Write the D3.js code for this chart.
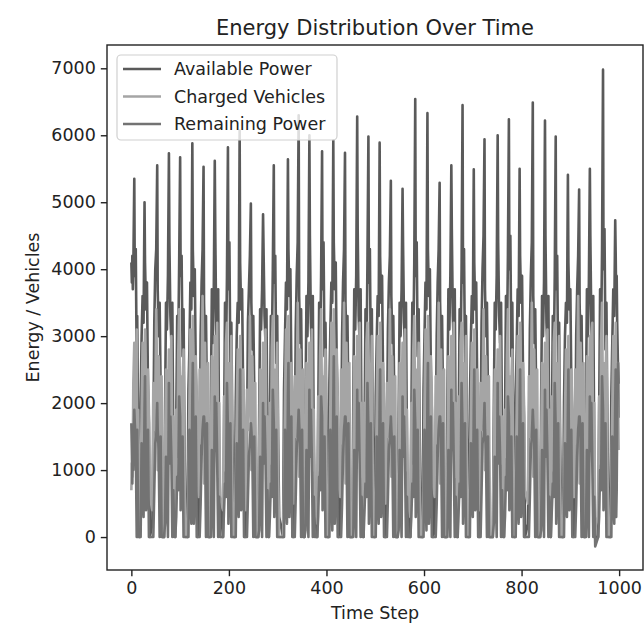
<!DOCTYPE html>
<html>
<head>
<meta charset="utf-8">
<script src="https://cdn.jsdelivr.net/npm/d3@7"></script>
<style>
  body { margin: 0; background: #fff; }
  svg { display: block; font-family: "DejaVu Sans", sans-serif; }
</style>
</head>
<body>
<div id="chart"></div>
<script>
// --- Data ---
// Vertices of each series, one row per daily cycle (x = time step)
const timeSteps = [
  [0, 1, 2, 3, 4, 6, 7, 9, 11, 12, 14, 16],
  [17, 19, 21, 23, 25, 27, 28, 30, 32, 34, 36, 38],
  [43, 45, 47, 49, 51, 53, 54, 56, 58, 60, 62, 64],
  [67, 69, 71, 73, 75, 77, 78, 80, 82, 84, 86, 88],
  [90, 92, 94, 96, 98, 100, 101, 103, 105, 107, 109, 111],
  [115, 117, 119, 121, 123, 125, 126, 128, 130, 132, 134, 136],
  [138, 140, 142, 144, 146, 148, 149, 151, 153, 155, 157, 159],
  [161, 163, 165, 167, 169, 171, 172, 174, 176, 178, 180, 182],
  [188, 190, 192, 194, 196, 198, 199, 201, 203, 205, 207, 209],
  [212, 214, 216, 218, 220, 222, 223, 225, 227, 229, 231, 233],
  [235, 237, 239, 241, 243, 245, 246, 248, 250, 252, 254, 256],
  [260, 262, 264, 266, 268, 270, 271, 273, 275, 277, 279, 281],
  [282, 284, 286, 288, 290, 292, 293, 295, 297, 299, 301, 303],
  [311, 313, 315, 317, 319, 321, 322, 324, 326, 328, 330, 332],
  [333, 335, 337, 339, 341, 343, 344, 346, 348, 350, 352, 354],
  [355, 357, 359, 361, 363, 365, 366, 368, 370, 372, 374, 376],
  [381, 383, 385, 387, 389, 391, 392, 394, 396, 398, 400, 402],
  [404, 406, 408, 410, 412, 414, 415, 417, 419, 421, 423, 425],
  [428, 430, 432, 434, 436, 438, 439, 441, 443, 445, 447, 449],
  [453, 455, 457, 459, 461, 463, 464, 466, 468, 470, 472, 474],
  [476, 478, 480, 482, 484, 486, 487, 489, 491, 493, 495, 497],
  [499, 501, 503, 505, 507, 509, 510, 512, 514, 516, 518, 520],
  [522, 524, 526, 528, 530, 532, 533, 535, 537, 539, 541, 543],
  [546, 548, 550, 552, 554, 556, 557, 559, 561, 563, 565, 567],
  [572, 574, 576, 578, 580, 582, 583, 585, 587, 589, 591, 593],
  [597, 599, 601, 603, 605, 607, 608, 610, 612, 614, 616, 618],
  [622, 624, 626, 628, 630, 632, 633, 635, 637, 639, 641, 643],
  [646, 648, 650, 652, 654, 656, 657, 659, 661, 663, 665, 667],
  [669, 671, 673, 675, 677, 679, 680, 682, 684, 686, 688, 690],
  [692, 694, 696, 698, 700, 702, 703, 705, 707, 709, 711, 713],
  [714, 716, 718, 720, 722, 724, 725, 727, 729, 731, 733, 735],
  [741, 743, 745, 747, 749, 751, 752, 754, 756, 758, 760, 762],
  [764, 766, 768, 770, 772, 774, 775, 777, 779, 781, 783, 785],
  [786, 788, 790, 792, 794, 796, 797, 799, 801, 803, 805, 807],
  [813, 815, 817, 819, 821, 823, 824, 826, 828, 830, 832, 834],
  [838, 840, 842, 844, 846, 848, 849, 851, 853, 855, 857, 859],
  [860, 862, 864, 866, 868, 870, 871, 873, 875, 877, 879, 881],
  [885, 887, 889, 891, 893, 895, 896, 898, 900, 902, 904, 906],
  [908, 910, 912, 914, 916, 918, 919, 921, 923, 925, 927, 929],
  [930, 932, 934, 936, 938, 940, 941, 943, 945, 947, 949, 951],
  [957, 959, 961, 963, 965, 967, 968, 970, 972, 974, 976, 978],
  [982, 984, 986, 988, 990, 992, 993, 994, 995, 996, 998, 999]
];

const availablePower = [
  [4100, 3800, 4200, 3700, 4000, 5350, 3900, 4300, 2600, 3300, 1500, 300],
  [0, 2000, 3000, 3600, 3200, 5000, 4100, 3400, 3800, 2300, 1700, 0],
  [200, 1400, 3200, 4000, 4300, 5550, 3700, 3000, 3500, 2200, 1100, 0],
  [0, 1800, 3500, 3100, 3900, 5730, 4400, 3300, 2900, 3500, 1400, 300],
  [0, 1700, 3300, 2800, 4100, 5670, 3900, 4200, 2700, 3400, 1400, 200],
  [0, 2200, 2800, 3800, 3400, 5880, 4300, 3600, 4000, 2500, 1900, 0],
  [100, 1200, 3000, 3800, 4300, 5530, 3500, 2800, 3300, 2000, 900, 0],
  [0, 2000, 3700, 2900, 3700, 5620, 4600, 3100, 2700, 3700, 1200, 500],
  [0, 1500, 3500, 2600, 3900, 5820, 3700, 4400, 2500, 3200, 1600, 400],
  [0, 2000, 3000, 3500, 3200, 6070, 4100, 3400, 3700, 2300, 1700, 0],
  [300, 1400, 3200, 3700, 4200, 4980, 3500, 2800, 3300, 2200, 1100, 0],
  [0, 1800, 3400, 3100, 3700, 4820, 4300, 3300, 2900, 3400, 1400, 300],
  [0, 1600, 3300, 2800, 4000, 5550, 3800, 4200, 2600, 3300, 1500, 300],
  [0, 2200, 3000, 3800, 3400, 5640, 4300, 3600, 4000, 2500, 1900, 0],
  [200, 1300, 3100, 3900, 4400, 6300, 3600, 2900, 3400, 2100, 1000, 0],
  [0, 1900, 3600, 3000, 3800, 6000, 4500, 3200, 2800, 3600, 1300, 400],
  [0, 1700, 3500, 2700, 3900, 5760, 3700, 4400, 2700, 3200, 1600, 200],
  [0, 2300, 3100, 3800, 3500, 5920, 4400, 3700, 4100, 2600, 2000, 0],
  [100, 1200, 3000, 3800, 4300, 5740, 3500, 2800, 3300, 2000, 900, 0],
  [0, 2000, 3700, 3100, 3900, 6280, 4600, 3300, 2900, 3700, 1400, 500],
  [0, 1500, 3400, 2600, 4100, 5980, 3800, 4300, 2500, 3400, 1500, 400],
  [0, 2100, 2900, 3600, 3300, 5890, 4200, 3500, 3900, 2400, 1800, 0],
  [200, 1400, 3100, 3800, 4200, 5320, 3600, 2900, 3300, 2100, 1000, 0],
  [0, 1800, 3500, 3000, 3700, 5200, 4400, 3200, 2800, 3500, 1300, 400],
  [0, 1700, 3500, 2800, 4100, 6540, 3900, 4400, 2700, 3400, 1600, 300],
  [0, 2200, 3000, 3800, 3400, 6330, 4300, 3600, 4000, 2500, 1900, 0],
  [100, 1300, 3000, 3800, 4300, 5290, 3500, 2800, 3300, 2000, 900, 0],
  [0, 2000, 3700, 3100, 3900, 5550, 4600, 3300, 2900, 3700, 1400, 500],
  [0, 1600, 3400, 2700, 4000, 6450, 3800, 4300, 2600, 3300, 1500, 300],
  [0, 2000, 2900, 3600, 3200, 5490, 4100, 3400, 3800, 2300, 1700, 0],
  [300, 1400, 3200, 4000, 4500, 5940, 3700, 3000, 3500, 2200, 1100, 0],
  [0, 1800, 3500, 3100, 3900, 6000, 4400, 3300, 2900, 3500, 1400, 300],
  [0, 1700, 3600, 2800, 4200, 6240, 4000, 4500, 2700, 3500, 1600, 200],
  [0, 2100, 2800, 3700, 3300, 5500, 4200, 3500, 3900, 2400, 1800, 0],
  [200, 1300, 3100, 3900, 4400, 6490, 3600, 2900, 3400, 2100, 1000, 0],
  [0, 1900, 3600, 3000, 3800, 6220, 4500, 3200, 2800, 3600, 1300, 400],
  [0, 1500, 3300, 2600, 3900, 5980, 3700, 4200, 2500, 3200, 1500, 400],
  [0, 2000, 3000, 3500, 3200, 5410, 4100, 3400, 3700, 2300, 1700, 0],
  [100, 1200, 3000, 3700, 4200, 5190, 3500, 2800, 3300, 2000, 900, 0],
  [0, 2000, 3700, 3000, 3800, 5500, 4500, 3200, 2800, 3600, 1300, 0],
  [0, 1800, 3700, 2900, 4300, 6980, 4000, 4600, 2800, 3500, 1700, 300],
  [0, 2100, 2900, 3700, 3300, 4730, 4200, 3500, 3900, 3200, 2400, 1780]
];

const chargedVehicles = [
  [700, 1100, 900, 1300, 2300, 2900, 1400, 2300, 3100, 1000, 1900, 500],
  [0, 900, 1800, 2900, 1200, 2500, 3100, 1400, 1200, 2500, 1900, 600],
  [400, 2300, 1600, 2000, 3400, 2300, 1000, 2700, 1900, 1300, 2400, 0],
  [0, 1300, 2500, 1000, 1900, 2800, 1500, 2200, 3000, 1100, 1800, 400],
  [200, 1900, 1200, 2700, 3400, 1800, 2400, 900, 2300, 2800, 1000, 0],
  [0, 700, 2000, 3100, 1400, 2300, 3300, 1600, 1000, 2700, 2100, 800],
  [600, 2500, 1400, 2200, 3600, 2100, 800, 2900, 1700, 1100, 2600, 0],
  [0, 1100, 2700, 800, 1700, 3000, 1300, 2400, 3200, 900, 2000, 600],
  [400, 2100, 1000, 2900, 3200, 1600, 2600, 700, 2100, 3000, 800, 0],
  [0, 900, 1800, 2800, 1200, 2500, 3000, 1400, 1200, 2500, 1900, 600],
  [400, 2200, 1600, 2000, 3300, 2300, 1000, 2700, 1900, 1300, 2300, 0],
  [0, 1300, 2500, 1000, 1900, 2900, 1500, 2200, 3100, 1100, 1800, 400],
  [300, 2000, 1100, 2800, 3300, 1700, 2500, 800, 2200, 2900, 900, 0],
  [0, 800, 2000, 3100, 1400, 2300, 3300, 1500, 1100, 2600, 2000, 700],
  [500, 2400, 1500, 2100, 3500, 2200, 900, 2800, 1800, 1200, 2500, 0],
  [0, 1200, 2600, 900, 1800, 2900, 1400, 2300, 3100, 1000, 1900, 500],
  [200, 2100, 1000, 2700, 3400, 1800, 2400, 900, 2300, 2800, 1000, 0],
  [0, 700, 2000, 3200, 1400, 2300, 3400, 1600, 1000, 2800, 2100, 800],
  [600, 2500, 1400, 2200, 3500, 2100, 800, 2900, 1700, 1100, 2600, 0],
  [0, 1100, 2700, 800, 1700, 3000, 1300, 2400, 3200, 900, 2000, 600],
  [400, 2000, 1100, 2900, 3200, 1600, 2600, 700, 2100, 3000, 800, 0],
  [0, 800, 1900, 3000, 1300, 2400, 3200, 1500, 1100, 2600, 2000, 700],
  [500, 2300, 1500, 2100, 3400, 2200, 900, 2700, 1800, 1200, 2400, 0],
  [0, 1200, 2600, 900, 1800, 2900, 1400, 2300, 3100, 1000, 1900, 500],
  [300, 2000, 1100, 2800, 3300, 1700, 2500, 800, 2200, 2900, 900, 0],
  [0, 700, 2000, 3100, 1400, 2300, 3300, 1600, 1000, 2700, 2100, 800],
  [600, 2400, 1400, 2200, 3500, 2100, 800, 2800, 1700, 1100, 2500, 0],
  [0, 1100, 2700, 800, 1700, 3000, 1300, 2400, 3200, 900, 2000, 600],
  [400, 2100, 1000, 2900, 3200, 1600, 2600, 700, 2100, 3000, 800, 0],
  [0, 900, 1800, 2900, 1200, 2500, 3100, 1400, 1200, 2500, 1900, 600],
  [400, 2300, 1600, 2000, 3400, 2300, 1000, 2700, 1900, 1300, 2400, 0],
  [0, 1300, 2500, 1000, 1900, 2800, 1500, 2200, 3000, 1100, 1800, 400],
  [200, 1900, 1200, 2700, 3400, 1800, 2400, 900, 2300, 2800, 1000, 0],
  [0, 800, 1900, 3000, 1300, 2400, 3200, 1500, 1100, 2600, 2000, 700],
  [500, 2400, 1500, 2100, 3500, 2200, 900, 2800, 1800, 1200, 2500, 0],
  [0, 1200, 2600, 900, 1800, 2900, 1400, 2300, 3100, 1000, 1900, 500],
  [400, 2100, 1000, 2900, 3200, 1600, 2600, 700, 2100, 3000, 800, 0],
  [0, 900, 1800, 2800, 1200, 2500, 3000, 1400, 1200, 2500, 1900, 600],
  [600, 2500, 1400, 2200, 3600, 2100, 800, 2900, 1700, 1100, 2600, 0],
  [0, 1100, 2700, 800, 1700, 3000, 1300, 2400, 3200, 900, 2000, 140],
  [300, 2100, 1100, 2900, 3500, 1800, 2600, 900, 2300, 3000, 1000, 0],
  [0, 800, 1900, 3000, 1300, 2400, 3200, 1500, 1100, 2600, 2000, 1300]
];

const remainingPower = [
  [1700, 1300, 800, 1500, 1000, 1900, 1700, 1400, 0, 1600, 0, 0],
  [0, 0, 1400, 600, 300, 1900, 2400, 400, 700, 1600, 0, 0],
  [0, 0, 700, 1400, 1500, 2000, 1600, 1300, 0, 1500, 0, 0],
  [0, 200, 1200, 700, 0, 2300, 1100, 1800, 1200, 0, 700, 0],
  [0, 300, 900, 700, 2100, 1800, 400, 1100, 1500, 0, 0, 0],
  [0, 0, 1600, 700, 200, 2100, 2600, 200, 800, 1800, 0, 0],
  [0, 0, 500, 1200, 1600, 1800, 1800, 1500, 0, 1700, 0, 0],
  [0, 0, 1300, 600, 0, 2100, 1300, 2000, 1100, 0, 600, 0],
  [0, 400, 800, 600, 2300, 1600, 200, 900, 1700, 0, 0, 0],
  [0, 0, 1400, 600, 300, 1900, 2500, 400, 600, 1600, 0, 0],
  [0, 0, 600, 1200, 1400, 1700, 1600, 1300, 0, 1500, 0, 0],
  [0, 100, 1200, 700, 0, 2000, 1100, 1800, 1200, 0, 700, 0],
  [0, 300, 800, 600, 2200, 1700, 300, 1000, 1600, 0, 0, 0],
  [0, 0, 1600, 700, 200, 2100, 2600, 300, 800, 1800, 0, 0],
  [0, 0, 600, 1300, 1500, 1900, 1700, 1400, 0, 1600, 0, 0],
  [0, 100, 1300, 600, 0, 2200, 1200, 1900, 1200, 0, 600, 0],
  [0, 300, 900, 700, 2100, 1800, 400, 1100, 1500, 0, 0, 0],
  [0, 0, 1600, 700, 100, 2000, 2700, 200, 800, 1800, 0, 0],
  [0, 0, 500, 1200, 1600, 1800, 1800, 1500, 0, 1700, 0, 0],
  [0, 0, 1300, 600, 0, 2200, 1300, 2000, 1100, 0, 600, 0],
  [0, 400, 800, 600, 2300, 1600, 200, 900, 1700, 0, 0, 0],
  [0, 0, 1500, 600, 200, 2000, 2500, 300, 700, 1700, 0, 0],
  [0, 0, 600, 1300, 1500, 1800, 1600, 1300, 0, 1500, 0, 0],
  [0, 100, 1300, 600, 0, 2100, 1200, 1800, 1200, 0, 600, 0],
  [0, 300, 800, 600, 2200, 1700, 300, 1000, 1600, 0, 0, 0],
  [0, 0, 1600, 700, 100, 2100, 2600, 200, 800, 1800, 0, 0],
  [0, 0, 500, 1200, 1600, 1800, 1800, 1500, 0, 1700, 0, 0],
  [0, 0, 1300, 600, 0, 2200, 1300, 2000, 1100, 0, 600, 0],
  [0, 400, 800, 600, 2300, 1600, 200, 900, 1700, 0, 0, 0],
  [0, 0, 1400, 600, 300, 1900, 2500, 400, 600, 1600, 0, 0],
  [0, 0, 700, 1400, 1500, 2000, 1600, 1300, 0, 1500, 0, 0],
  [0, 200, 1200, 700, 0, 2300, 1100, 1800, 1200, 0, 700, 0],
  [0, 300, 900, 700, 2100, 1800, 400, 1100, 1500, 0, 0, 0],
  [0, 0, 1500, 600, 200, 2000, 2500, 300, 700, 1700, 0, 0],
  [0, 0, 600, 1300, 1500, 1900, 1700, 1400, 0, 1600, 0, 0],
  [0, 100, 1300, 600, 0, 2200, 1200, 1900, 1200, 0, 600, 0],
  [0, 400, 800, 600, 2300, 1600, 200, 900, 1700, 0, 0, 0],
  [0, 0, 1400, 600, 300, 1900, 2500, 400, 600, 1600, 0, 0],
  [0, 0, 500, 1200, 1600, 1800, 1800, 1500, 0, 1700, 0, 0],
  [0, 0, 1300, 600, 0, 2100, 1300, 2000, 1100, 0, 600, -140],
  [0, 300, 1000, 700, 2400, 1900, 400, 1100, 1700, 0, 0, 0],
  [0, 0, 1500, 600, 200, 2000, 2500, 300, 700, 1700, 2600, 2290]
];

const seriesNames = ["Available Power", "Charged Vehicles", "Remaining Power"];
const seriesColors = ["#5a5a5a", "#a5a5a5", "#737373"];
const xTicks = [0, 200, 400, 600, 800, 1000];
const yTicks = [0, 1000, 2000, 3000, 4000, 5000, 6000, 7000];

// --- Chart size ---
const width = 644;
const height = 624;
const plot = { left: 107, right: 643, top: 45, bottom: 570 };

const svg = d3.select("#chart")
  .append("svg")
  .attr("width", width)
  .attr("height", height);

// Scales (matplotlib style 5% padding around the data)
const xScale = d3.scaleLinear()
  .domain([-49.95, 1048.95])
  .range([plot.left, plot.right]);

const yScale = d3.scaleLinear()
  .domain([-492, 7348])
  .range([plot.bottom, plot.top]);

// Clip lines to the axes box
svg.append("clipPath").attr("id", "plot-clip")
  .append("rect")
  .attr("x", plot.left).attr("y", plot.top)
  .attr("width", plot.right - plot.left)
  .attr("height", plot.bottom - plot.top);

// --- Lines ---
const steps = timeSteps.flat();
const allSeries = [availablePower, chargedVehicles, remainingPower].map((rows, i) => {
  const vals = rows.flat();
  return {
    name: seriesNames[i],
    color: seriesColors[i],
    points: steps.map((t, j) => ({ t, v: vals[j] }))
  };
});

const line = d3.line()
  .x(d => xScale(d.t))
  .y(d => yScale(d.v));

svg.append("g")
  .attr("clip-path", "url(#plot-clip)")
  .selectAll("path")
  .data(allSeries)
  .join("path")
  .attr("d", d => line(d.points))
  .attr("fill", "none")
  .attr("stroke", d => d.color)
  .attr("stroke-width", 2.6)
  .attr("stroke-linejoin", "round");

// --- Axes ---
const xAxis = d3.axisBottom(xScale).tickValues(xTicks).tickFormat(d3.format("d")).tickSize(6.2).tickPadding(5);
const yAxis = d3.axisLeft(yScale).tickValues(yTicks).tickFormat(d3.format("d")).tickSize(6.2).tickPadding(5);

const gx = svg.append("g")
  .attr("transform", `translate(0, ${plot.bottom})`)
  .call(xAxis);
const gy = svg.append("g")
  .attr("transform", `translate(${plot.left}, 0)`)
  .call(yAxis);

[gx, gy].forEach(g => {
  g.select(".domain").remove();
  g.selectAll(".tick line").attr("stroke", "#222").attr("stroke-width", 1.4);
  g.selectAll(".tick text")
    .attr("fill", "#222")
    .style("font-size", "17.5px")
    .style("font-family", "'DejaVu Sans', sans-serif");
});

// Frame
svg.append("rect")
  .attr("x", plot.left).attr("y", plot.top)
  .attr("width", plot.right - plot.left)
  .attr("height", plot.bottom - plot.top)
  .attr("fill", "none")
  .attr("stroke", "#222")
  .attr("stroke-width", 1.4);

// --- Text ---
svg.append("text")
  .attr("x", (plot.left + plot.right) / 2)
  .attr("y", 35)
  .attr("text-anchor", "middle")
  .attr("fill", "#222")
  .style("font-size", "21px")
  .text("Energy Distribution Over Time");

svg.append("text")
  .attr("x", (plot.left + plot.right) / 2)
  .attr("y", 619)
  .attr("text-anchor", "middle")
  .attr("fill", "#222")
  .style("font-size", "17.5px")
  .text("Time Step");

svg.append("text")
  .attr("transform", `translate(39, ${(plot.top + plot.bottom) / 2}) rotate(-90)`)
  .attr("text-anchor", "middle")
  .attr("fill", "#222")
  .style("font-size", "17.5px")
  .text("Energy / Vehicles");

// --- Legend (upper left) ---
const legend = svg.append("g");
legend.append("rect")
  .attr("x", 117).attr("y", 55)
  .attr("width", 220).attr("height", 85)
  .attr("rx", 4)
  .attr("fill", "#fff")
  .attr("fill-opacity", 0.8)
  .attr("stroke", "#d0d0d0")
  .attr("stroke-width", 1.2);

const rows = legend.selectAll("g.item")
  .data(allSeries)
  .join("g")
  .attr("class", "item")
  .attr("transform", (d, i) => `translate(0, ${69 + i * 27.5})`);

rows.append("line")
  .attr("x1", 123).attr("x2", 161)
  .attr("stroke", d => d.color)
  .attr("stroke-width", 2.6);

rows.append("text")
  .attr("x", 174)
  .attr("y", 6)
  .attr("fill", "#222")
  .style("font-size", "17.5px")
  .text(d => d.name);
</script>
</body>
</html>
